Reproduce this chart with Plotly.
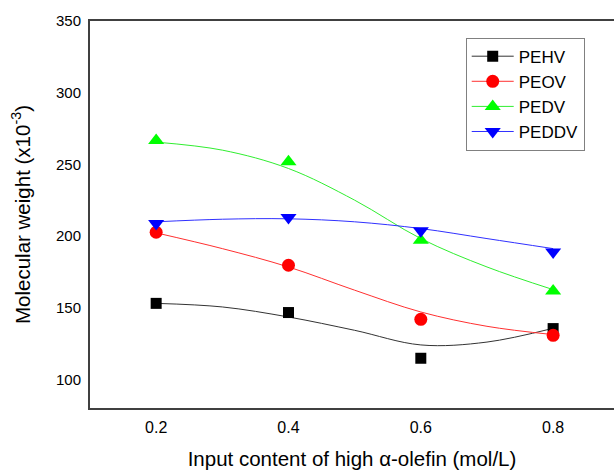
import plotly.graph_objects as go

x = [0.2, 0.4, 0.6, 0.8]
pehv = [153, 146.6, 114.7, 135.4]
peov = [202.6, 179.6, 141.9, 130.7]
pedv = [266.6, 251.8, 197.0, 161.7]
peddv = [208.7, 212.9, 203.6, 188.9]

# smooth fitted curves
curve_x = [0.2, 0.3, 0.4, 0.5, 0.6, 0.7, 0.8]
pehv_fit = [153, 150.5, 143.5, 134.2, 124.0, 126.0, 135.6]
peov_fit = [202.2, 191.2, 178.4, 162.2, 147.0, 137.0, 131.2]
pedv_fit = [265.5, 259.9, 247.1, 225.0, 198.2, 178.4, 162.6]
peddv_fit = [209.9, 211.7, 212.0, 209.9, 205.2, 198.2, 191.2]

names = ["PEHV", "PEOV", "PEDV", "PEDDV"]
values = [pehv, peov, pedv, peddv]
fits = [pehv_fit, peov_fit, pedv_fit, peddv_fit]
colors = ["#000000", "#ff0000", "#00ff00", "#0000ff"]
line_colors = ["#333333", "#ff3030", "#30ee30", "#3030ff"]
symbols = ["square", "circle", "triangle-up", "triangle-down"]
sizes = [11, 13, 14, 14]

fig = go.Figure()
for n, v, f, c, lc, s, sz in zip(names, values, fits, colors, line_colors, symbols, sizes):
    fig.add_trace(go.Scatter(x=curve_x, y=f, mode="lines", line=dict(color=lc, width=1, shape="spline"),
                             showlegend=False, hoverinfo="skip"))
    fig.add_trace(go.Scatter(x=x, y=v, mode="markers", marker=dict(color=c, symbol=s, size=sz),
                             showlegend=False, name=n))
    fig.add_trace(go.Scatter(x=[None], y=[None], mode="lines+markers", name=n,
                             line=dict(color=lc, width=1),
                             marker=dict(color=c, symbol=s, size=sz)))

fig.update_layout(
    width=614, height=470,
    margin=dict(l=90, r=0, t=21, b=62),
    plot_bgcolor="white", paper_bgcolor="white",
    font=dict(family="Liberation Sans, Arial", color="#000000", size=15),
    legend=dict(x=0.717, y=0.957, xanchor="left", yanchor="top",
                bordercolor="#808080", borderwidth=1, bgcolor="white",
                font=dict(size=17), tracegroupgap=0, itemwidth=42),
    xaxis=dict(range=[0.1, 0.892], tickvals=[0.2, 0.4, 0.6, 0.8], ticktext=["0.2", "0.4", "0.6", "0.8"],
               showgrid=False, zeroline=False, showline=True, linecolor="#404040", linewidth=2,
               mirror=True, ticks="outside", ticklen=4, tickcolor="rgba(0,0,0,0)",
               tickfont=dict(size=16),
               title=dict(text="Input content of high α-olefin (mol/L)", font=dict(size=20.5), standoff=16)),
    yaxis=dict(range=[80, 350], tickvals=[100, 150, 200, 250, 300, 350],
               showgrid=False, zeroline=False, showline=True, linecolor="#404040", linewidth=2,
               mirror=False, ticks="outside", ticklen=4, tickcolor="rgba(0,0,0,0)",
               tickfont=dict(size=15),
               title=dict(text="Molecular weight (x10<sup>-3</sup>)", font=dict(size=20.5), standoff=20)),
)
fig.write_html("out.html", config={"displayModeBar": False},
               post_script="document.body.style.margin='0';document.body.style.overflow='hidden';")
